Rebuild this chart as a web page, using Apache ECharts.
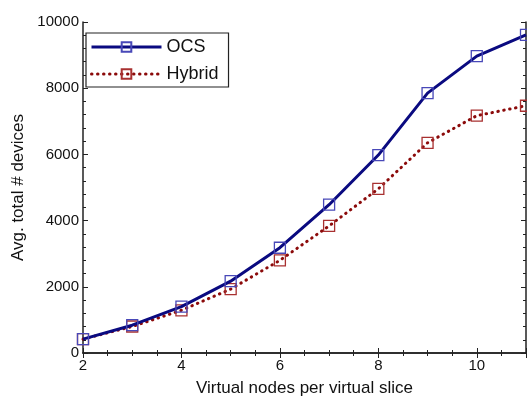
<!DOCTYPE html>
<html>
<head>
    <meta charset="UTF-8">
    <title>Avg. total devices</title>
    <script src="https://cdn.jsdelivr.net/npm/echarts@6/dist/echarts.min.js"></script>
    <style>
        body { margin: 0; background: #fff; }
        #root { width: 527px; height: 402px; }
    </style>
</head>
<body>
    <div id="root"></div>
    <script>
        // virtual nodes per slice
        var nodes = [2, 3, 4, 5, 6, 7, 8, 9, 10, 11];
        var ocs = [420, 840, 1400, 2170, 3180, 4480, 5980, 7850, 8970, 9610];
        var hybrid = [420, 800, 1290, 1930, 2800, 3840, 4960, 6350, 7170, 7470];

        function pairs(ys) {
            return nodes.map(function (x, i) { return [x, ys[i]]; });
        }

        var font = '"Liberation Sans", Arial, Helvetica, sans-serif';
        var axisLine = { show: true, lineStyle: { color: '#222', width: 1.5 } };
        var tick = { inside: true, length: 5, lineStyle: { color: '#222' } };

        var chart = echarts.init(document.getElementById('root'));
        chart.setOption({
            animation: false,
            backgroundColor: '#fff',
            grid: { left: 83, right: 1, top: 22, bottom: 49, containLabel: false },
            legend: {
                left: 86, top: 33,
                orient: 'vertical',
                backgroundColor: '#fff',
                borderColor: '#222',
                borderWidth: 1.2,
                borderRadius: 0,
                padding: [5, 10, 4, 4],
                itemWidth: 70,
                itemHeight: 12,
                itemGap: 9,
                textStyle: { fontFamily: font, fontSize: 18, color: '#111' },
                data: [
                    { name: 'OCS', lineStyle: { width: 3 } },
                    { name: 'Hybrid', lineStyle: { width: 3 } }
                ]
            },
            xAxis: [{
                type: 'value', min: 2, max: 11, interval: 2,
                name: 'Virtual nodes per virtual slice',
                nameLocation: 'middle', nameGap: 27,
                nameTextStyle: { fontFamily: font, fontSize: 17, color: '#111' },
                axisLine: axisLine,
                axisTick: tick,
                minorTick: { show: true, splitNumber: 4, length: 3, lineStyle: { color: '#222' } },
                axisLabel: { fontFamily: font, fontSize: 15, color: '#111', margin: 5, showMaxLabel: false },
                splitLine: { show: false }
            }, {
                type: 'value', min: 2, max: 11, interval: 2, position: 'top',
                axisLine: axisLine,
                axisTick: tick,
                minorTick: { show: true, splitNumber: 4, length: 3, lineStyle: { color: '#222' } },
                axisLabel: { show: false },
                splitLine: { show: false }
            }],
            yAxis: [{
                type: 'value', min: 0, max: 10000, interval: 2000,
                name: 'Avg. total # devices',
                nameLocation: 'middle', nameGap: 50,
                nameTextStyle: { fontFamily: font, fontSize: 17, color: '#111' },
                axisLine: axisLine,
                axisTick: tick,
                minorTick: { show: true, splitNumber: 5, length: 3, lineStyle: { color: '#222' } },
                axisLabel: {
                    fontFamily: font, fontSize: 15, color: '#111', margin: 4,
                    formatter: function (v) { return String(v); }
                },
                splitLine: { show: false }
            }, {
                type: 'value', min: 0, max: 10000, interval: 2000, position: 'right',
                axisLine: axisLine,
                axisTick: tick,
                minorTick: { show: true, splitNumber: 5, length: 3, lineStyle: { color: '#222' } },
                axisLabel: { show: false },
                splitLine: { show: false }
            }],
            series: [{
                name: 'OCS',
                type: 'line',
                data: pairs(ocs),
                symbol: 'rect',
                symbolSize: 11,
                lineStyle: { color: '#0a0a80', width: 3 },
                itemStyle: { color: 'rgba(255,255,255,0)', borderColor: '#4848b8', borderWidth: 1.3 },
                z: 3
            }, {
                name: 'Hybrid',
                type: 'line',
                data: pairs(hybrid),
                symbol: 'rect',
                symbolSize: 11,
                lineStyle: { color: '#8b0a0a', width: 3, type: [0.5, 5.5], cap: 'round' },
                itemStyle: { color: 'rgba(255,255,255,0)', borderColor: '#a83030', borderWidth: 1.3 },
                z: 2
            }]
        });
    </script>
</body>
</html>
